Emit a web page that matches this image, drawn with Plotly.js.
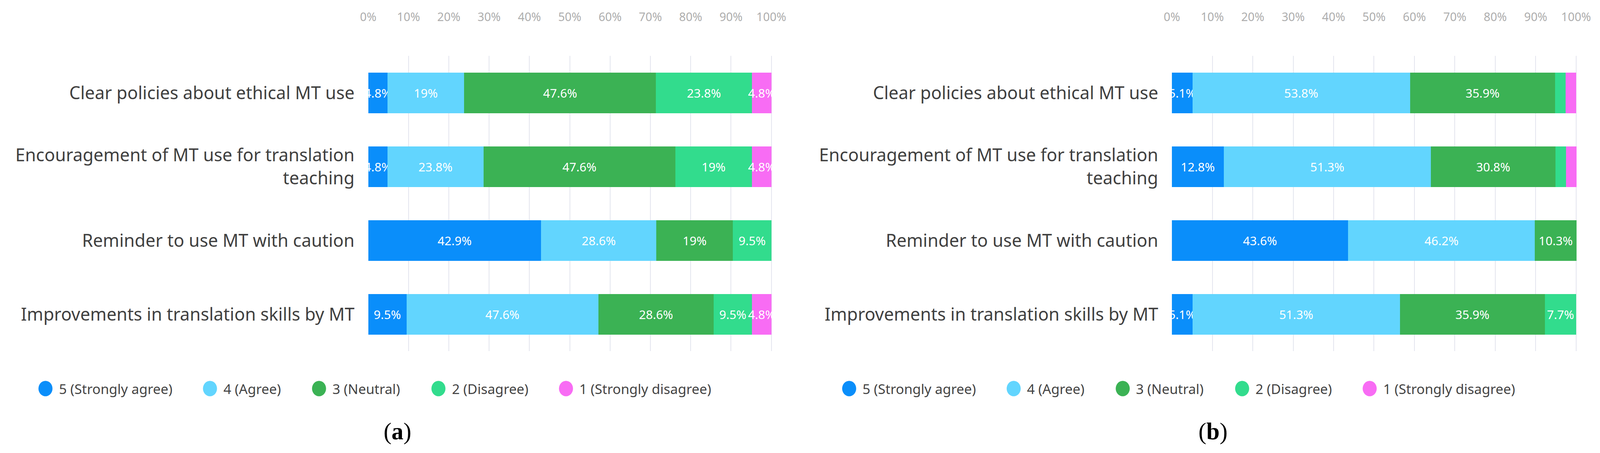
<!DOCTYPE html>
<html>
<head>
<meta charset="utf-8">
<script src="https://cdn.plot.ly/plotly-3.0.1.min.js"></script>
<style>html,body{margin:0;padding:0;background:#fff;overflow:hidden;}</style>
</head>
<body>
<div id="chart"></div>
<script>
// ---- data ----
var categories = [
  "Clear policies about ethical MT use",
  "Encouragement of MT use for translation<br>teaching",
  "Reminder to use MT with caution",
  "Improvements in translation skills by MT"
];
var seriesNames = ["5 (Strongly agree)", "4 (Agree)", "3 (Neutral)", "2 (Disagree)", "1 (Strongly disagree)"];
// panel (a)
var a_strongAgree    = [4.8, 4.8, 42.9, 9.5];
var a_agree          = [19, 23.8, 28.6, 47.6];
var a_neutral        = [47.6, 47.6, 19, 28.6];
var a_disagree       = [23.8, 19, 9.5, 9.5];
var a_strongDisagree = [4.8, 4.8, 0, 4.8];
// panel (b)
var b_strongAgree    = [5.1, 12.8, 43.6, 5.1];
var b_agree          = [53.8, 51.3, 46.2, 51.3];
var b_neutral        = [35.9, 30.8, 10.3, 35.9];
var b_disagree       = [2.6, 2.6, 0, 7.7];
var b_strongDisagree = [2.6, 2.6, 0, 0];
var tickVals = [0,10,20,30,40,50,60,70,80,90,100];
var tickText = ["0%","10%","20%","30%","40%","50%","60%","70%","80%","90%","100%"];
var panelLabels = ["(<b>a</b>)", "(<b>b</b>)"];

// ---- style / sizing ----
var colors = ["#0A8EFA", "#62D5FE", "#3BB254", "#32DC8D", "#F86CF4"];
var FONT = "Noto Sans, Open Sans, sans-serif";
var REF_W = 4328, REF_H = 1160;
var W = Math.min(window.innerWidth || REF_W, REF_W);
var H = Math.min(window.innerHeight || REF_H, REF_H);
var sx = W / REF_W, sy = H / REF_H;
var fs = Math.min(sx, sy);
document.getElementById("chart").style.width = W + "px";
document.getElementById("chart").style.height = H + "px";

var panels = [
  {series:[a_strongAgree,a_agree,a_neutral,a_disagree,a_strongDisagree], xa:"x", ya:"y"},
  {series:[b_strongAgree,b_agree,b_neutral,b_disagree,b_strongDisagree], xa:"x2", ya:"y2"}
];

var traces = [];
panels.forEach(function(p){
  p.series.forEach(function(vals, i){
    traces.push({
      type: "bar",
      orientation: "h",
      name: seriesNames[i],
      y: categories,
      x: vals,
      xaxis: p.xa,
      yaxis: p.ya,
      marker: {color: colors[i], line: {width: 0}},
      text: vals.map(function(v){ return v >= 4 ? (v + "%") : ""; }),
      textposition: "inside",
      insidetextanchor: "middle",
      textangle: 0,
      textfont: {family: FONT, size: Math.round(33 * fs), color: "#ffffff"},
      cliponaxis: false,
      showlegend: false,
      hoverinfo: "skip"
    });
  });
});

var domA = [996/REF_W, 2088/REF_W], domB = [3170/REF_W, 4265/REF_W];
function xAxis(domain, anchor){
  return {
    domain: domain, anchor: anchor, range: [0, 100.15], side: "top",
    tickvals: tickVals, ticktext: tickText, ticks: "",
    ticklabelstandoff: Math.round(82 * sy),
    tickfont: {family: FONT, size: Math.round(32 * fs), color: "#aeaeae"},
    showgrid: true, gridcolor: "#e3e5ee", gridwidth: 2,
    zeroline: false, showline: false, fixedrange: true
  };
}
function yAxis(anchor){
  return {
    domain: [0.2246, 0.8763], anchor: anchor, type: "category",
    autorange: "reversed", ticks: "", ticklabelstandoff: Math.round(36 * sx),
    tickfont: {family: FONT, size: Math.round(48 * fs), color: "#404040"},
    showgrid: false, zeroline: false, showline: false, fixedrange: true
  };
}

// manual legend (offsets in reference px relative to the 0% line of each panel)
var legendOffsets = [-873, -428, -133, 190, 535];
var legendY = 1 - 995/REF_H;
var shapes = [], annotations = [];
[domA[0], domB[0]].forEach(function(x0frac){
  seriesNames.forEach(function(name, i){
    var cx = legendOffsets[i] * sx;
    shapes.push({
      type: "circle", xref: "paper", yref: "paper",
      xsizemode: "pixel", ysizemode: "pixel",
      xanchor: x0frac, yanchor: legendY,
      x0: cx - 19 * fs, x1: cx + 19 * fs,
      y0: -21 * fs, y1: 21 * fs,
      fillcolor: colors[i], line: {width: 0}
    });
    annotations.push({
      xref: "paper", yref: "paper", x: x0frac, y: legendY,
      xshift: cx + 34 * fs, xanchor: "left", yanchor: "middle",
      text: name, showarrow: false,
      font: {family: FONT, size: Math.round(37 * fs), color: "#444444"}
    });
  });
});
annotations.push({xref:"paper", yref:"paper", x:1075/REF_W, y:1-1105/REF_H, text:panelLabels[0],
  showarrow:false, xanchor:"center", yanchor:"middle", font:{family:"Liberation Serif, serif", size:Math.round(64 * fs), color:"#000"}});
annotations.push({xref:"paper", yref:"paper", x:3281/REF_W, y:1-1105/REF_H, text:panelLabels[1],
  showarrow:false, xanchor:"center", yanchor:"middle", font:{family:"Liberation Serif, serif", size:Math.round(64 * fs), color:"#000"}});

var layout = {
  width: W, height: H,
  margin: {l: 0, r: 0, t: 0, b: 0},
  paper_bgcolor: "#ffffff", plot_bgcolor: "#ffffff",
  barmode: "stack", bargap: 0.45,
  showlegend: false,
  uniformtext: {minsize: Math.round(33 * fs), mode: "show"},
  xaxis: xAxis(domA, "y"),
  yaxis: yAxis("x"),
  xaxis2: xAxis(domB, "y2"),
  yaxis2: yAxis("x2"),
  shapes: shapes,
  annotations: annotations,
  font: {family: FONT}
};

Plotly.newPlot("chart", traces, layout, {displayModeBar: false, staticPlot: true});
</script>
</body>
</html>
